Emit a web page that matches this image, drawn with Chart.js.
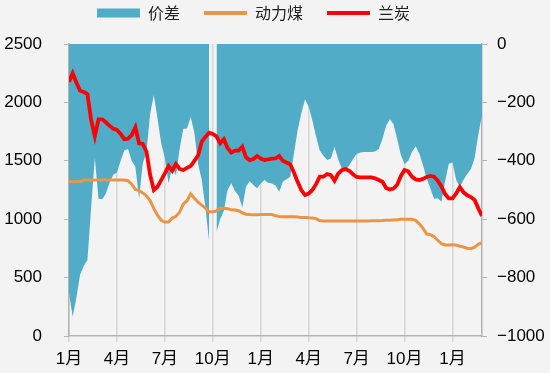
<!DOCTYPE html>
<html>
<head>
<meta charset="utf-8">
<script src="https://cdn.jsdelivr.net/npm/chart.js@4"></script>
<style>
  html, body { margin: 0; padding: 0; background: #f3f3f3; }
</style>
</head>
<body>
<canvas id="chart" width="550" height="373"></canvas>
<script>
// quarter labels under the x axis, one every 13 weeks
const tickLabels = ['1月', '4月', '7月', '10月', '1月', '4月', '7月', '10月', '1月'];

// 兰炭 (left axis)
const lantan = [
  2177, 2250, 2170, 2100, 2090, 2070, 1850, 1710, 1855, 1855,
  1830, 1800, 1775, 1765, 1730, 1685, 1690, 1720, 1787, 1650,
  1645, 1580, 1380, 1250, 1278, 1335, 1393, 1455, 1415, 1473,
  1430, 1421, 1440, 1455, 1500, 1545, 1664, 1705, 1741, 1730,
  1710, 1650, 1684, 1610, 1570, 1587, 1587, 1620, 1530, 1505,
  1515, 1541, 1520, 1507, 1512, 1518, 1521, 1541, 1500, 1485,
  1470, 1400, 1320, 1250, 1207, 1220, 1250, 1300, 1364, 1364,
  1387, 1378, 1330, 1390, 1420, 1430, 1415, 1385, 1362, 1358,
  1358, 1358, 1358, 1350, 1336, 1320, 1268, 1255, 1262, 1295,
  1370, 1421, 1410, 1365, 1340, 1336, 1345, 1362, 1370, 1364,
  1330, 1280, 1215, 1178, 1178, 1220, 1275, 1230, 1205, 1190,
  1165, 1093, 1027
];

// 动力煤 (left axis)
const coal = [
  1320, 1320, 1320, 1322, 1335, 1335, 1335, 1335, 1335, 1335,
  1335, 1335, 1335, 1335, 1335, 1335, 1330, 1300, 1255, 1245,
  1225, 1200, 1160, 1090, 1035, 990, 975, 975, 1010, 1025,
  1060, 1130, 1158, 1216, 1180, 1145, 1120, 1095, 1064, 1064,
  1070, 1093, 1093, 1090, 1080, 1078, 1073, 1055, 1043, 1040,
  1038, 1038, 1040, 1040, 1040, 1040, 1030, 1022, 1021, 1021,
  1021, 1021, 1018, 1015, 1015, 1012, 1010, 1005, 988, 985,
  985, 985, 985, 985, 985, 985, 985, 985, 985, 985,
  985, 985, 986, 987, 987, 988, 990, 990, 993, 996,
  999, 999, 999, 999, 990, 960, 922, 873, 868, 850,
  820, 790, 780, 779, 782, 778, 768, 762, 752, 748,
  760, 785, 799
];

// 价差 (right axis), one missing week
const spread = [
  -854, -934, -870, -790, -760, -740, -560, -390, -530, -532,
  -512, -475, -448, -440, -400, -365, -360, -400, -420, -530,
  -409, -370, -240, -175, -255, -340, -390, -477, -420, -450,
  -360, -290, -289, -250, -305, -410, -466, -560, -677, null,
  -643, -600, -570, -500, -477, -503, -520, -560, -489, -470,
  -483, -494, -478, -466, -475, -478, -485, -506, -471, -463,
  -455, -375, -295, -237, -189, -215, -262, -317, -365, -383,
  -397, -392, -352, -395, -428, -432, -415, -395, -377, -372,
  -370, -370, -370, -368, -360, -325, -280, -258, -275, -325,
  -380, -411, -400, -370, -350, -375, -415, -460, -495, -530,
  -528, -540, -470, -410, -406, -466, -490, -465, -445, -428,
  -390, -310, -243
];

const weeks = coal.map((_, i) => i);

Chart.defaults.font.family = "'Liberation Sans', 'Noto Sans CJK SC', sans-serif";
Chart.defaults.font.size = 17;
Chart.defaults.color = '#000';

const axisGrey = '#b3b3b3';

// legend sits a bit left of centre and leaves room above the plot
const legendTweak = {
  id: 'legendTweak',
  beforeInit(chart) {
    const fit = chart.legend.fit;
    chart.legend.fit = function () {
      fit.call(this);
      this.height += 13;
      if (this.lineWidths) this.lineWidths[0] += 43;
    };
  }
};

const ctx = document.getElementById('chart').getContext('2d');
new Chart(ctx, {
  type: 'line',
  data: {
    labels: weeks,
    datasets: [{
      label: '价差',
      data: spread,
      yAxisID: 'y1',
      backgroundColor: '#51adc7',
      borderColor: '#51adc7',
      borderWidth: 0,
      fill: 'origin',
      pointRadius: 0,
      spanGaps: false,
      order: 3
    }, {
      label: '动力煤',
      data: coal,
      yAxisID: 'y',
      borderColor: '#ec9445',
      borderWidth: 3,
      pointRadius: 0,
      fill: false,
      order: 2
    }, {
      label: '兰炭',
      data: lantan,
      yAxisID: 'y',
      borderColor: '#ff0000',
      borderWidth: 3.8,
      pointRadius: 0,
      fill: false,
      order: 1
    }]
  },
  options: {
    responsive: false,
    animation: false,
    layout: { padding: { top: -19, right: 0, left: 0, bottom: 0 } },
    plugins: {
      tooltip: { enabled: false },
      legend: {
        position: 'top',
        labels: {
          usePointStyle: true,
          pointStyleWidth: 43,
          boxHeight: 9,
          padding: 24,
          color: '#222',
          font: { family: "'Noto Sans CJK SC', sans-serif", size: 16 },
          generateLabels: (chart) => chart.data.datasets.map((ds, i) => ({
            text: ds.label,
            fillStyle: ds.backgroundColor || ds.borderColor,
            strokeStyle: ds.borderColor,
            lineWidth: i === 0 ? 0 : 4,
            pointStyle: i === 0 ? 'rect' : 'line',
            fontColor: '#222',
            hidden: false,
            datasetIndex: i
          }))
        }
      }
    },
    scales: {
      x: {
        type: 'linear',
        min: 0,
        max: 112,
        grid: { color: '#d6d6d6', lineWidth: 1.5, tickLength: 6 },
        border: { color: axisGrey, width: 1.5 },
        ticks: {
          stepSize: 13,
          includeBounds: false,
          autoSkip: false,
          maxRotation: 0,
          padding: 7,
          callback: (v) => tickLabels[v / 13]
        },
        afterFit: (s) => { s.height = 37; }
      },
      y: {
        position: 'left',
        min: 0,
        max: 2500,
        grid: { drawOnChartArea: false, tickLength: 5, color: axisGrey },
        border: { color: axisGrey, width: 1.5 },
        ticks: { stepSize: 500, padding: 22, callback: (v) => String(v) },
        afterFit: (s) => { s.width = 69; }
      },
      y1: {
        position: 'right',
        min: -1000,
        max: 0,
        grid: { drawOnChartArea: false, tickLength: 5, color: axisGrey },
        border: { color: axisGrey, width: 1.5 },
        ticks: {
          stepSize: 200,
          padding: 10,
          callback: (v) => v < 0 ? '\u2212' + Math.abs(v) : String(v)
        },
        afterFit: (s) => { s.width = 68; }
      }
    }
  },
  plugins: [legendTweak]
});
</script>
</body>
</html>
